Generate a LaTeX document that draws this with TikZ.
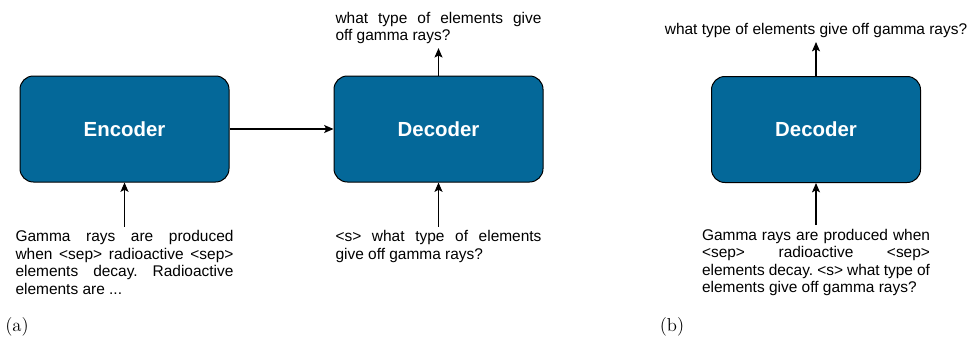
\documentclass[tikz,border=0pt]{standalone}
\usepackage{fontspec}
\setsansfont{Liberation Sans}
\usetikzlibrary{arrows.meta,positioning,shapes}
\definecolor{boxblue}{RGB}{4,104,153}
\frenchspacing
\tikzset{
    %Define standard arrow tip
    >={Stealth[length=7pt,width=6pt,inset=1.5pt]},
    %Define style for boxes
    box/.style={
           rectangle,
           rounded corners=10pt,
           draw=black, line width=0.75pt,
           fill=boxblue,
           text=white,
           font=\sffamily\bfseries\fontsize{15.3}{18}\selectfont,
           minimum width=156.75pt,
           minimum height=79.5pt},
    annot/.style={
           font=\sffamily\fontsize{11.6}{13.1}\selectfont,
           inner sep=3pt,
           align=justify},
    sublabel/.style={
           font=\fontsize{14}{16}\selectfont,
           inner sep=0pt},
    % Define arrow style
    arr/.style={
           ->,
           line width=0.8pt}
}
\begin{document}
\begin{tikzpicture}[x=0.75pt,y=-0.75pt]
  \useasboundingbox (0,0) rectangle (970,339);

  % (a) encoder-decoder
  \node[box] (enc) at (124.5,129) {Encoder};
  \node[box, right=78pt of enc] (dec) {Decoder};

  \node[annot, text width=163.5pt, below=33pt of enc] (enc-in)
    {Gamma rays are produced\linebreak when <sep> radioactive <sep>\linebreak
     elements decay. Radioactive\linebreak elements are ...};
  \node[annot, text width=154.5pt, below=33pt of dec] (dec-in)
    {<s> what type of elements\linebreak give off gamma rays?};
  \node[annot, text width=154.5pt, above=20.5pt of dec] (dec-out)
    {what type of elements give\linebreak off gamma rays?};

  \path [arr] (enc) edge (dec);
  \path [arr] (enc-in) edge (enc);
  \path [arr] (dec-in) edge (dec);
  \path [arr] (dec) edge (dec-out);

  % (b) decoder only
  \node[box] (decb) at (816,129.5) {Decoder};

  \node[annot, text width=171pt, below=31.5pt of decb] (decb-in)
    {Gamma rays are produced when\linebreak <sep> radioactive <sep>\linebreak
     elements decay. <s> what type of\linebreak elements give off gamma rays?};
  \node[annot, above=25.5pt of decb] (decb-out)
    {what type of elements give off gamma rays?};

  \path [arr] (decb-in) edge (decb);
  \path [arr] (decb) edge (decb-out);

  \node[sublabel] (lbl-a) at (17,327) {(a)};
  \node[sublabel] (lbl-b) at (672,327) {(b)};
\end{tikzpicture}
\end{document}
